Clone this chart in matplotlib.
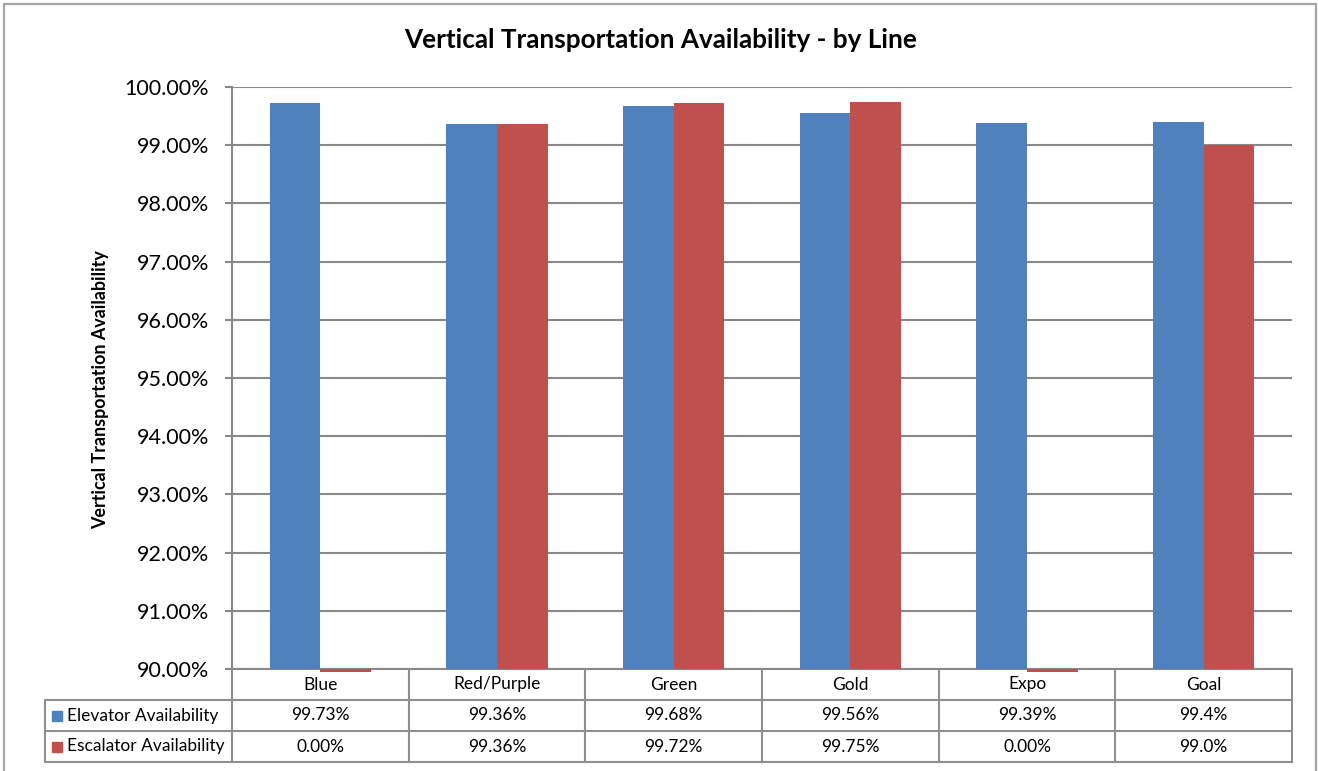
import matplotlib
matplotlib.use("Agg")
import matplotlib.pyplot as plt
import matplotlib.transforms as mtransforms
from matplotlib.patches import Rectangle
import numpy as np

plt.rcParams['font.family'] = ['Lato', 'DejaVu Sans']

# Data
lines = ["Blue", "Red/Purple", "Green", "Gold", "Expo", "Goal"]
elevator = [99.73, 99.36, 99.68, 99.56, 99.39, 99.4]
escalator = [0.00, 99.36, 99.72, 99.75, 0.00, 99.0]
elevator_labels = ["99.73%", "99.36%", "99.68%", "99.56%", "99.39%", "99.4%"]
escalator_labels = ["0.00%", "99.36%", "99.72%", "99.75%", "0.00%", "99.0%"]
series_names = ["Elevator Availability", "Escalator Availability"]
yticks = [90, 91, 92, 93, 94, 95, 96, 97, 98, 99, 100]

BLUE = "#4F81BD"
RED = "#C0504D"
GRID = "#898989"
TABLE = "#8F8F8F"

W, H = 1318, 771
fig = plt.figure(figsize=(W / 100, H / 100), dpi=100)
fig.patch.set_facecolor("white")

# outer chart frame
fig.patches.append(Rectangle((4 / W, -0.05), (1316 - 4) / W, 1.05 - 4 / H,
                             transform=fig.transFigure, fill=False,
                             edgecolor="#A6A6A6", linewidth=1.6))

left, right, top, bottom = 232, 1292, 87, 669
ax = fig.add_axes([left / W, 1 - bottom / H, (right - left) / W, (bottom - top) / H])

x = np.arange(len(lines))
bw = 0.286
ymin, ymax = 90, 100

ax.bar(x - bw / 2, elevator, width=bw, color=BLUE, zorder=3)
ax.bar(x + bw / 2, escalator, width=bw, color=RED, zorder=3)

# values below the axis minimum show as a thin sliver under the baseline
for xi, v in zip(x, escalator):
    if v < ymin:
        ax.bar(xi + bw / 2, -0.05, bottom=ymin, width=bw, color=RED,
               clip_on=False, zorder=3)
for xi, v in zip(x, elevator):
    if v < ymin:
        ax.bar(xi - bw / 2, -0.05, bottom=ymin, width=bw, color=BLUE,
               clip_on=False, zorder=3)

ax.set_xlim(-0.5, len(lines) - 0.5)
ax.set_ylim(ymin, ymax)
ax.set_yticks(yticks)
ax.set_yticklabels([f"{t:.2f}%" for t in yticks], fontsize=15.5)
ax.set_xticks([])
ax.yaxis.grid(True, color=GRID, linewidth=1.5, zorder=0)
ax.set_axisbelow(True)
ax.tick_params(axis="y", length=5, width=1.5, color=GRID, pad=11.5)
for s in ["top", "right"]:
    ax.spines[s].set_visible(False)
ax.spines["left"].set_color(GRID)
ax.spines["left"].set_linewidth(1.5)
ax.spines["bottom"].set_color(GRID)
ax.spines["bottom"].set_linewidth(1.5)

fig.text(661 / W, 1 - 40 / H, "Vertical Transportation Availability - by Line",
         ha="center", va="center", fontsize=18.8, fontweight="bold")
fig.text(101 / W, 1 - 390 / H, "Vertical Transportation Availability",
         ha="center", va="center", rotation=90, fontsize=12.9, fontweight="bold")

# data table below the axes: x in data units, y in axes units
trans = mtransforms.blended_transform_factory(ax.transData, ax.transAxes)
px = 1.0 / (bottom - top)
row_h = 31 * px
y_cat = 0
y_r1 = -row_h
y_r2 = -2 * row_h
y_r3 = -3 * row_h
xl = ax.get_xlim()
label_left = xl[0] - (left - 45) / ((right - left) / len(lines))

lk = dict(color=TABLE, linewidth=1.5, clip_on=False, transform=trans, zorder=5)
for yy in [y_r1, y_r2, y_r3]:
    ax.plot([label_left, xl[1]], [yy, yy], **lk)
for b in np.arange(len(lines) + 1) - 0.5:
    ax.plot([b, b], [y_cat, y_r3], **lk)
ax.plot([label_left, label_left], [y_r1, y_r3], **lk)

fs = 12.5
for xi, name, e, s in zip(x, lines, elevator_labels, escalator_labels):
    ax.text(xi, (y_cat + y_r1) / 2, name, ha="center", va="center",
            fontsize=fs, transform=trans, clip_on=False)
    ax.text(xi, (y_r1 + y_r2) / 2, e, ha="center", va="center",
            fontsize=fs, transform=trans, clip_on=False)
    ax.text(xi, (y_r2 + y_r3) / 2, s, ha="center", va="center",
            fontsize=fs, transform=trans, clip_on=False)

unit = (right - left) / len(lines)
for (yc, name, col) in [((y_r1 + y_r2) / 2, series_names[0], BLUE),
                        ((y_r2 + y_r3) / 2, series_names[1], RED)]:
    sq = 10 * px
    ax.add_patch(Rectangle((label_left + 7 / unit, yc - sq / 2), 10 / unit, sq,
                           transform=trans, color=col, clip_on=False, zorder=6))
    ax.text(label_left + 22 / unit, yc, name, ha="left", va="center",
            fontsize=fs, transform=trans, clip_on=False)

fig.savefig("out.png", dpi=100, facecolor="white")
